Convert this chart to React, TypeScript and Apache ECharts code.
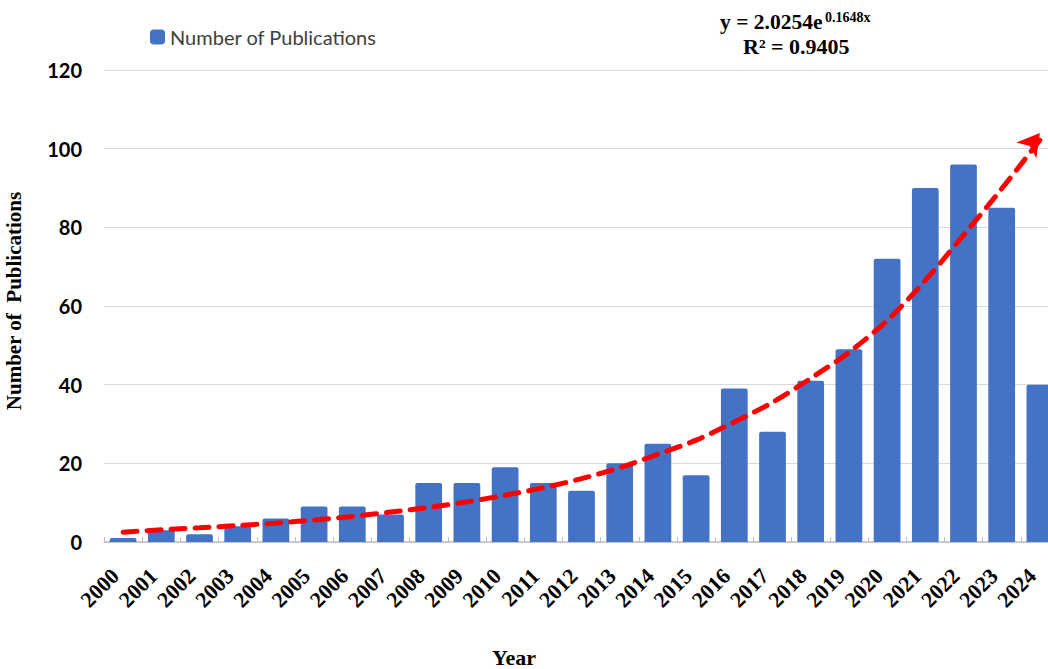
import React, { useEffect, useRef } from "react";
import * as echarts from "echarts";

const years: string[] = [
  "2000", "2001", "2002", "2003", "2004", "2005", "2006", "2007", "2008", "2009",
  "2010", "2011", "2012", "2013", "2014", "2015", "2016", "2017", "2018", "2019",
  "2020", "2021", "2022", "2023", "2024",
];
const publications: number[] = [
  1, 3, 2, 4, 6, 9, 9, 7, 15, 15,
  19, 15, 13, 20, 25, 17, 39, 28, 41, 49,
  72, 90, 96, 85, 40,
];
const trendline: number[] = [
  2.5, 3.1, 3.6, 4.2, 4.8, 5.6, 6.5, 7.6, 8.8, 10.2,
  11.9, 13.8, 16.1, 18.9, 22.3, 25.9, 30.5, 35.5, 41.6, 48.2,
  56.3, 66.5, 78.0, 89.8, 102.2,
];
const yTicks = { min: 0, max: 120, interval: 20 };
const seriesName = "Number of Publications";
const equationMain = "y = 2.0254e";
const equationExp = "0.1648x";
const rSquared = "R² = 0.9405";

export default function App() {
  const ref = useRef<HTMLDivElement>(null);
  useEffect(() => {
    if (!ref.current) return;
    const chart = echarts.init(ref.current, null, { renderer: "svg" });
    const last = trendline.length - 1;
    const trendData = trendline.map((v, i) =>
      i === last
        ? { value: v, symbol: "arrow", symbolSize: [19, 22], symbolRotate: -38, symbolOffset: [0, -7] }
        : { value: v }
    );
    chart.setOption({
      animation: false,
      backgroundColor: "#ffffff",
      grid: { left: 104, top: 70, width: 955, height: 472, outerBoundsMode: "none", containLabel: false },
      legend: {
        data: [seriesName],
        left: 150,
        top: 27,
        padding: 0,
        itemWidth: 15,
        itemHeight: 15,
        icon: "roundRect",
        textStyle: { fontFamily: "Lato", fontSize: 20, color: "#404040" },
      },
      xAxis: {
        type: "category",
        data: years,
        axisLine: { lineStyle: { color: "#bfbfbf", width: 1.5 } },
        axisTick: { show: true, inside: true, length: 5, lineStyle: { color: "#bfbfbf" } },
        axisLabel: {
          rotate: 45,
          interval: 0,
          margin: 38,
          verticalAlign: "bottom",
          fontFamily: "Liberation Serif",
          fontWeight: "bold",
          fontSize: 22,
          color: "#000000",
        },
      },
      yAxis: {
        type: "value",
        min: yTicks.min,
        max: yTicks.max,
        interval: yTicks.interval,
        name: "Number of  Publications",
        nameLocation: "middle",
        nameGap: 80,
        nameTextStyle: {
          fontFamily: "Liberation Serif",
          fontWeight: "bold",
          fontSize: 21,
          color: "#000000",
          padding: [0, 0, 0, 10],
        },
        axisLine: { show: false },
        axisTick: { show: false },
        splitLine: { lineStyle: { color: "#d9d9d9", width: 1 } },
        axisLabel: {
          margin: 22,
          fontFamily: "Lato",
          fontWeight: "bold",
          fontSize: 20,
          color: "#000000",
        },
      },
      series: [
        {
          name: seriesName,
          type: "bar",
          data: publications,
          barCategoryGap: "30%",
          itemStyle: { color: "#4472C4", borderRadius: [2, 2, 0, 0] },
          z: 2,
        },
        {
          name: "Trend",
          type: "line",
          data: trendData,
          smooth: 0.3,
          symbol: "none",
          showSymbol: true,
          showAllSymbol: true,
          itemStyle: { color: "#ff0000" },
          lineStyle: { color: "#ff0000", width: 5, type: [14, 10], cap: "round" },
          z: 3,
        },
      ],
      graphic: [
        {
          type: "text",
          left: 720,
          top: 11,
          style: {
            text: equationMain,
            fontFamily: "Liberation Serif",
            fontWeight: "bold",
            fontSize: 21.5,
            fill: "#000000",
          },
        },
        {
          type: "text",
          left: 825,
          top: 10,
          style: {
            text: equationExp,
            fontFamily: "Liberation Serif",
            fontWeight: "bold",
            fontSize: 14,
            fill: "#000000",
          },
        },
        {
          type: "text",
          left: 743,
          top: 35,
          style: {
            text: rSquared,
            fontFamily: "Liberation Serif",
            fontWeight: "bold",
            fontSize: 22,
            fill: "#000000",
          },
        },
        {
          type: "text",
          left: 492,
          top: 646,
          style: {
            text: "Year",
            fontFamily: "Liberation Serif",
            fontWeight: "bold",
            fontSize: 22,
            fill: "#000000",
          },
        },
      ],
    });
    return () => chart.dispose();
  }, []);
  return (
    <div
      ref={ref}
      style={{ position: "fixed", left: 0, top: 0, width: 1048, height: 669, overflow: "hidden" }}
    />
  );
}
